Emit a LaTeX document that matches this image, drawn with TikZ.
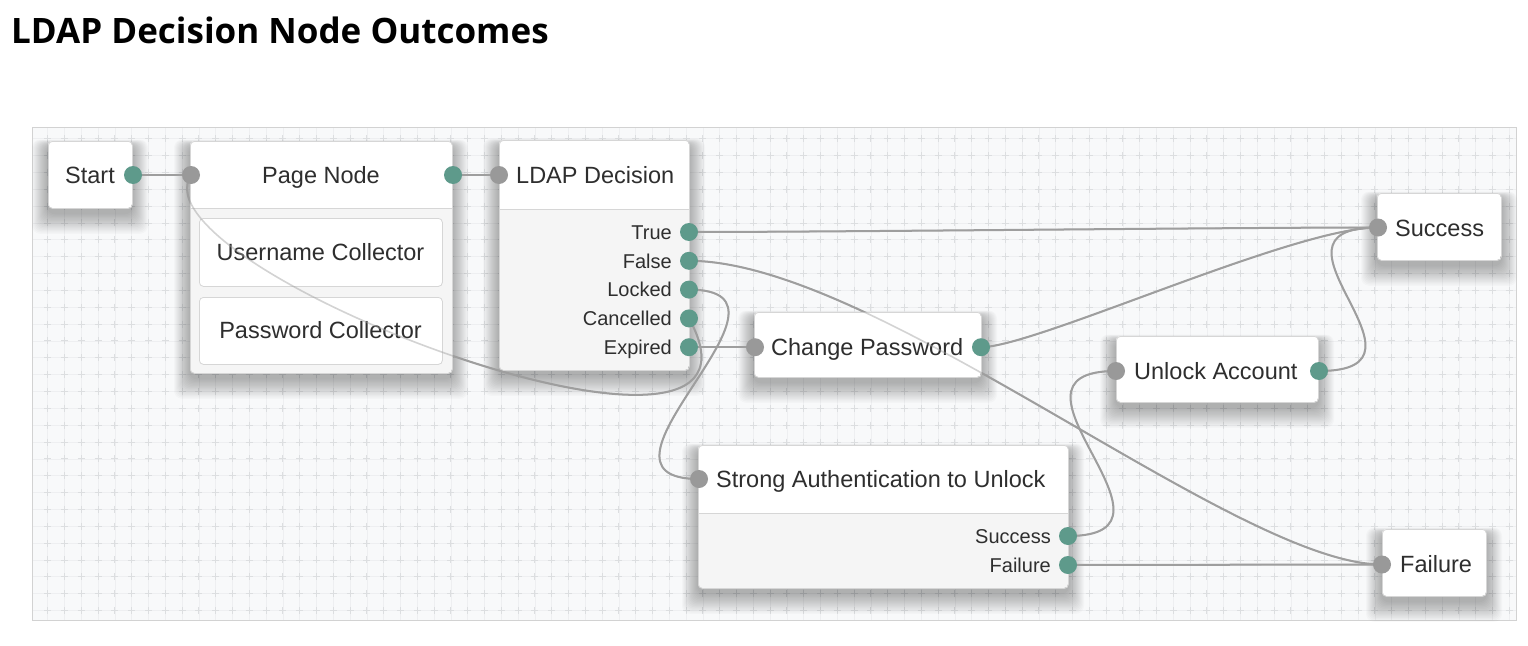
\documentclass[tikz,border=0pt]{standalone}
\usepackage{fontspec}
\setmainfont{Liberation Sans}
\newfontfamily\titlefont{Open Sans}
\pgfdeclarelayer{bg}
\pgfdeclarelayer{shadowl}
\pgfdeclarelayer{connl}
\pgfdeclarelayer{connover}
\pgfdeclarelayer{front}
\pgfsetlayers{bg,shadowl,connl,main,connover,front}
\definecolor{portteal}{HTML}{5E9A8B}
\definecolor{portgrey}{HTML}{999999}
\definecolor{conngrey}{HTML}{9E9E9E}
\definecolor{textc}{HTML}{2E2E2E}
\definecolor{boxborder}{HTML}{D6D6D6}
\definecolor{bodygrey}{HTML}{F5F5F5}
\definecolor{panelbg}{HTML}{F8F9FA}
\definecolor{panelborder}{HTML}{D2D2D2}
\definecolor{gridc}{HTML}{EEEFF1}
\definecolor{crossc}{HTML}{DCDEE0}
% box: name, x1, y1, x2, y2, separator y
\newcommand\mybox[6]{%
  \begin{pgfonlayer}{shadowl}
    \foreach \i in {1,...,16}{%
      \fill[black, opacity=0.02, rounded corners=8pt]
        ({#2-\i*1.0},{#3+5-\i*0.4}) rectangle ({#4+\i*1.0},{#5+5+\i*1.3});}
  \end{pgfonlayer}
  \begin{scope}
    \clip[rounded corners=4pt] (#2,#3) rectangle (#4,#5);
    \fill[white] (#2,#3) rectangle (#4,#6);
    \fill[bodygrey] (#2,#6) rectangle (#4,#5);
  \end{scope}
  \node[boxframe, minimum width={(#4-#2)*1pt}, minimum height={(#5-#3)*1pt}] (#1) at (#2,#3) {};
}
\begin{document}
\begin{tikzpicture}[x=1pt,y=-1pt,
  outport/.style={circle, fill=portteal, minimum size=18pt, inner sep=0pt},
  inport/.style={circle, fill=portgrey, minimum size=18pt, inner sep=0pt},
  lbl/.style={inner sep=0pt, text=textc, font=\fontsize{23.5}{28}\selectfont},
  olbl/.style={inner sep=0pt, text=textc, font=\fontsize{20}{24}\selectfont},
  boxframe/.style={draw=boxborder, line width=0.8pt, rounded corners=4pt, inner sep=0pt, anchor=north west},
  sepline/.style={draw=boxborder, line width=0.8pt},
]
\useasboundingbox (0,0) rectangle (1528,645);
% ---------- background, panel and grid
\begin{pgfonlayer}{bg}
  \fill[white] (0,0) rectangle (1528,645);
  \fill[panelbg] (32,127) rectangle (1516,620);
  \begin{scope}
    \clip (32,127) rectangle (1516,620);
    \foreach \k in {0,...,87}{%
      \draw[gridc, line width=0.7pt] ({47.7+16.8*\k},127) -- ({47.7+16.8*\k},620);}
    \foreach \k in {0,...,28}{%
      \draw[gridc, line width=0.7pt] (32,{138.7+16.85*\k}) -- (1516,{138.7+16.85*\k});}
    \foreach \k in {0,...,87}{%
      \draw[crossc, line width=0.9pt, dash pattern=on 7pt off 9.85pt] ({47.7+16.8*\k},135.2) -- ({47.7+16.8*\k},620);}
    \foreach \k in {0,...,28}{%
      \draw[crossc, line width=0.9pt, dash pattern=on 7pt off 9.8pt] (44.2,{138.7+16.85*\k}) -- (1516,{138.7+16.85*\k});}
  \end{scope}
  \draw[panelborder, line width=1pt] (32,127) rectangle (1516,620);
\end{pgfonlayer}
% ---------- title
\node[anchor=base west, inner sep=0pt, text=black, font=\titlefont\bfseries\fontsize{35}{40}\selectfont] (title) at (11,43) {LDAP Decision Node Outcomes};
% ---------- boxes
\mybox{start}{48}{141}{132}{208}{208}
\mybox{page}{190}{141}{452}{373}{208}
\mybox{ldap}{499}{140}{689}{370}{209}
\mybox{chpw}{754}{312}{981}{377}{377}
\mybox{strong}{698}{445}{1068}{588}{513}
\mybox{succ}{1377}{193}{1501}{260}{260}
\mybox{unlock}{1116}{336}{1318}{402}{402}
\mybox{fail}{1382}{529}{1486}{596}{596}
\draw[sepline] (page.west |- 0,208) -- (page.east |- 0,208);
\draw[sepline] (ldap.west |- 0,209) -- (ldap.east |- 0,209);
\draw[sepline] (strong.west |- 0,513) -- (strong.east |- 0,513);
% inner collector boxes of the page node
\fill[white, rounded corners=4pt] (199,218) rectangle (442,286);
\node[boxframe, minimum width=243pt, minimum height=68pt] (uname) at (199,218) {};
\fill[white, rounded corners=4pt] (199,297) rectangle (442,364);
\node[boxframe, minimum width=243pt, minimum height=67pt] (pword) at (199,297) {};
% ---------- texts
\node[lbl, anchor=base] (tstart) at (90,183.4) {Start};
\node[lbl, anchor=base] (tpage) at (321,183.4) {Page Node};
\node[lbl, anchor=base] (tuname) at (320.5,260.4) {Username Collector};
\node[lbl, anchor=base] (tpword) at (320.5,338.9) {Password Collector};
\node[lbl, anchor=base west] (tldap) at (516,183.4) {LDAP Decision};
\node[olbl, anchor=base east] (ttrue) at (672,239.2) {True};
\node[olbl, anchor=base east] (tfalse) at (672,268) {False};
\node[olbl, anchor=base east] (tlocked) at (672,296.8) {Locked};
\node[olbl, anchor=base east] (tcanc) at (672,325.6) {Cancelled};
\node[olbl, anchor=base east] (texp) at (672,354.4) {Expired};
\node[lbl, anchor=base west] (tchpw) at (771,355.4) {Change Password};
\node[lbl, anchor=base west] (tstrong) at (716,487.4) {Strong Authentication to Unlock};
\node[olbl, anchor=base east] (tssucc) at (1051,543.2) {Success};
\node[olbl, anchor=base east] (tsfail) at (1051,572.4) {Failure};
\node[lbl, anchor=base west] (tsucc) at (1395,236) {Success};
\node[lbl, anchor=base west] (tunlock) at (1134,379.4) {Unlock Account};
\node[lbl, anchor=base west] (tfail) at (1400,572.6) {Failure};
% ---------- ports
\begin{pgfonlayer}{front}
  \node[outport] (startout) at (133,175) {};
  \node[inport]  (pagein)   at (191,175) {};
  \node[outport] (pageout)  at (453,175) {};
  \node[inport]  (ldapin)   at (499,175) {};
  \node[outport] (ptrue)    at (689,232) {};
  \node[outport] (pfalse)   at (689,260.8) {};
  \node[outport] (plocked)  at (689,289.6) {};
  \node[outport] (pcanc)    at (689,318.4) {};
  \node[outport] (pexp)     at (689,347.2) {};
  \node[inport]  (chpwin)   at (755,347.2) {};
  \node[outport] (chpwout)  at (981,347.2) {};
  \node[inport]  (strongin) at (699,479) {};
  \node[outport] (ssucc)    at (1068,536) {};
  \node[outport] (sfail)    at (1068,565) {};
  \node[inport]  (succin)   at (1378,227.5) {};
  \node[inport]  (unlockin) at (1116,371) {};
  \node[outport] (unlockout) at (1319,371) {};
  \node[inport]  (failin)   at (1382,564.5) {};
\end{pgfonlayer}
% ---------- connectors (drawn beneath the boxes, and faintly again over them)
\foreach \lay/\op/\lw in {connl/1/2pt, connover/0.45/1.6pt}{%
\begin{pgfonlayer}{\lay}
 \begin{scope}[every path/.style={draw=conngrey, line width=\lw, opacity=\op}]
  \path (startout.center) -- (pagein.center);
  \path (pageout.center) -- (ldapin.center);
  \path (ptrue.center) .. controls +(150,0) and +(-150,0) .. (succin.center);
  \path (pfalse.center) .. controls +(188,0) and +(-146,0) .. (failin.center);
  \path (plocked.center) .. controls +(133,0) and +(-133,0) .. (strongin.center);
  \path (pcanc.center) .. controls (800,520) and (130,270) .. (pagein.center);
  \path (pexp.center) -- (chpwin.center);
  \path (chpwout.center) .. controls +(54,0) and +(-85,0) .. (succin.center);
  \path (unlockout.center) .. controls +(132,0) and +(-132,0) .. (succin.center);
  \path (ssucc.center) .. controls +(135,0) and +(-135,0) .. (unlockin.center);
  \path (sfail.center) -- (failin.center);
 \end{scope}
\end{pgfonlayer}}
\end{tikzpicture}
\end{document}
